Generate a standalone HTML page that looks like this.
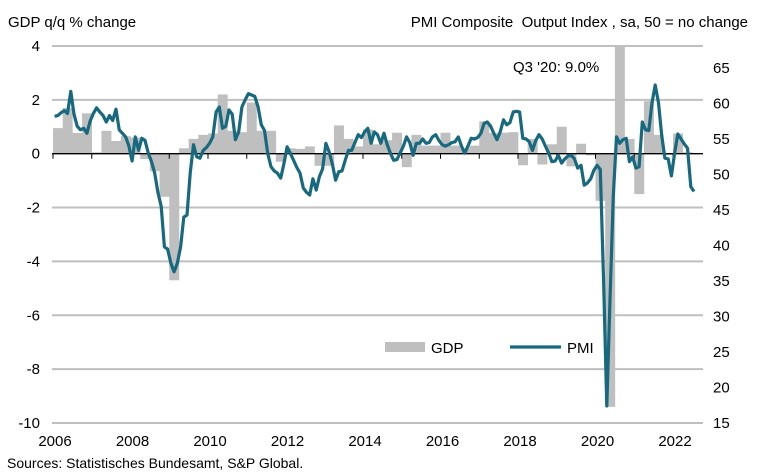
<!DOCTYPE html>
<html><head><meta charset="utf-8"><style>
body{margin:0;background:#fff;}
svg{display:block;font-family:"Liberation Sans",Arial,sans-serif;}
</style></head><body>
<svg id="chart" width="771" height="474" viewBox="0 0 771 474">
<text x="8" y="27" font-size="15" fill="#000">GDP q/q % change</text>
<text x="748" y="27" font-size="15" fill="#000" text-anchor="end">PMI Composite&#160; Output Index , sa, 50 = no change</text>
<g id="grid"></g><g id="bars"></g><g id="zero"></g><g id="line"></g><g id="labels"></g>
<text x="513" y="72" font-size="15">Q3 '20: 9.0%</text>
<g>
<rect x="385" y="342" width="40" height="10" fill="#bfbfbf"></rect>
<text x="431" y="353" font-size="15">GDP</text>
<line x1="510" y1="347" x2="561" y2="347" stroke="#17697f" stroke-width="3.2"></line>
<text x="567" y="353" font-size="15">PMI</text>
</g>
<text x="7" y="468" font-size="14">Sources: Statistisches Bundesamt, S&amp;P Global.</text>
</svg>
<script>
const gdpStartYear = 2006;
const gdpValues = [0.95,1.7,0.77,1.5, 0.05,0.85,0.47,0.65, 0.6,-0.2,-0.65,-1.6, -4.7,0.2,0.55,0.7, 0.75,2.2,0.85,0.8, 1.9,0.85,0.85,-0.3, 0.2,0.18,0.27,-0.45, -0.45,1.05,0.55,0.27, 0.9,0.35,0.5,0.78, -0.5,0.7,0.3,0.3, 0.78,0.3,0.2,0.3, 1.2,0.77,0.78,0.8, -0.43,0.55,-0.4,0.35, 1.0,-0.47,0.37,-0.06, -1.75,-9.4,9.0,0.55, -1.5,1.95,0.7,-0.05, 0.75,0.05];
const pmiValues = [
58.2,58.3,58.7,59.0,58.6,61.7,58.5,56.8,56.3,56.5,55.8,57.5,
58.6,59.4,58.8,58.3,57.4,58.3,57.6,59.2,56.3,55.8,55.3,54.0,
51.9,55.3,53.4,55.1,54.8,53.0,51.8,50.2,47.5,45.5,39.8,39.5,
37.5,36.3,37.5,39.8,44.0,44.3,50.2,54.2,52.5,52.3,53.4,53.8,
54.4,55.3,58.8,59.5,56.5,56.8,59.1,58.5,54.9,56.0,59.5,60.5,
61.4,61.2,61.0,59.5,57.0,56.2,53.0,51.1,50.5,50.2,49.5,51.5,
53.9,53.0,52.0,51.0,50.2,48.1,47.5,47.1,49.4,47.8,49.7,50.8,
54.4,53.2,51.5,49.2,50.4,50.5,52.0,53.4,53.4,54.5,55.6,55.2,
56.0,56.5,54.4,56.0,55.6,54.4,55.8,54.2,53.0,52.0,52.1,53.0,
54.0,55.3,54.5,52.7,54.4,54.4,55.0,54.4,54.5,55.3,55.6,54.8,
54.2,54.0,54.2,54.5,54.6,55.3,54.0,53.0,54.0,55.1,55.0,55.2,
55.8,57.2,57.4,56.8,55.8,54.9,56.0,57.7,57.0,57.3,58.8,58.9,
58.8,55.1,55.0,54.6,53.4,54.8,55.6,55.0,54.0,53.0,51.8,51.9,
52.7,51.6,52.2,52.6,52.7,52.2,50.9,51.3,48.5,48.8,49.4,50.6,
51.3,50.7,35.0,17.4,32.3,47.0,55.3,54.4,54.9,55.1,51.8,52.5,
50.9,51.1,57.4,56.3,56.2,60.1,62.6,60.1,55.5,52.3,52.2,49.8,
53.0,55.7,55.0,54.3,53.7,48.3,47.6];
const leftTicks = [4,2,0,-2,-4,-6,-8,-10];
const rightTicks = [65,60,55,50,45,40,35,30,25,20,15];
const yearLabels = [2006,2008,2010,2012,2014,2016,2018,2020,2022];

const NS = "http://www.w3.org/2000/svg";
const X0 = 52, X1 = 703;
function xT(t){ return 53 + 38.75*(t-2006); }
function yL(v){ return 153.7 - v*26.93; }
function yR(v){ return 174.5 - (v-50)*7.1; }
function mk(tag, attrs, parent){ const e=document.createElementNS(NS,tag); for(const k in attrs) e.setAttribute(k,attrs[k]); parent.appendChild(e); return e; }

const grid=document.getElementById('grid');
leftTicks.forEach(v=>{
  if(v===0) return;
  const l=mk('line',{x1:X0,x2:X1,y1:yL(v),y2:yL(v),stroke:'#bfbfbf','stroke-width':2},grid);
  
  
});
const labels=document.getElementById('labels');
leftTicks.forEach(v=>{
  const t=mk('text',{x:40,y:yL(v)+5,'font-size':15,'text-anchor':'end'},labels);
  t.textContent=v;
  
  
});
rightTicks.forEach(v=>{
  const t=mk('text',{x:713,y:yR(v)+5,'font-size':15},labels);
  t.textContent=v;
  
  
});
yearLabels.forEach(y=>{
  const t=mk('text',{x:xT(y)+2,y:446,'font-size':15,'text-anchor':'middle'},labels);
  t.textContent=y;
  
  
});
const bars=document.getElementById('bars');
gdpValues.forEach((v,i)=>{
  const t0=gdpStartYear+i/4;
  const x=xT(t0), w=xT(t0+0.25)-x;
  const vc=Math.max(-10,Math.min(4,v));
  const y=Math.min(yL(0),yL(vc)), h=Math.abs(yL(vc)-yL(0));
  const r=mk('rect',{x:x,y:y,width:w+0.3,height:h,fill:'#bfbfbf'},bars);
  
  
});
const zero=document.getElementById('zero');
const zl=mk('line',{x1:X0,x2:X1,y1:yL(0),y2:yL(0),stroke:'#000','stroke-width':1.3},zero);


for(let y=2006;y<=2022;y++){
  const tk=mk('line',{x1:xT(y),x2:xT(y),y1:yL(0),y2:yL(0)+5,stroke:'#000','stroke-width':1},zero);
  
  
}
const pts=pmiValues.map((v,i)=>xT(2006+(i+0.5)/12).toFixed(1)+','+yR(v).toFixed(1)).join(' ');
const pl=mk('polyline',{points:pts,fill:'none',stroke:'#17697f','stroke-width':3.2,'stroke-linejoin':'round'},document.getElementById('line'));


</script>
</body></html>
